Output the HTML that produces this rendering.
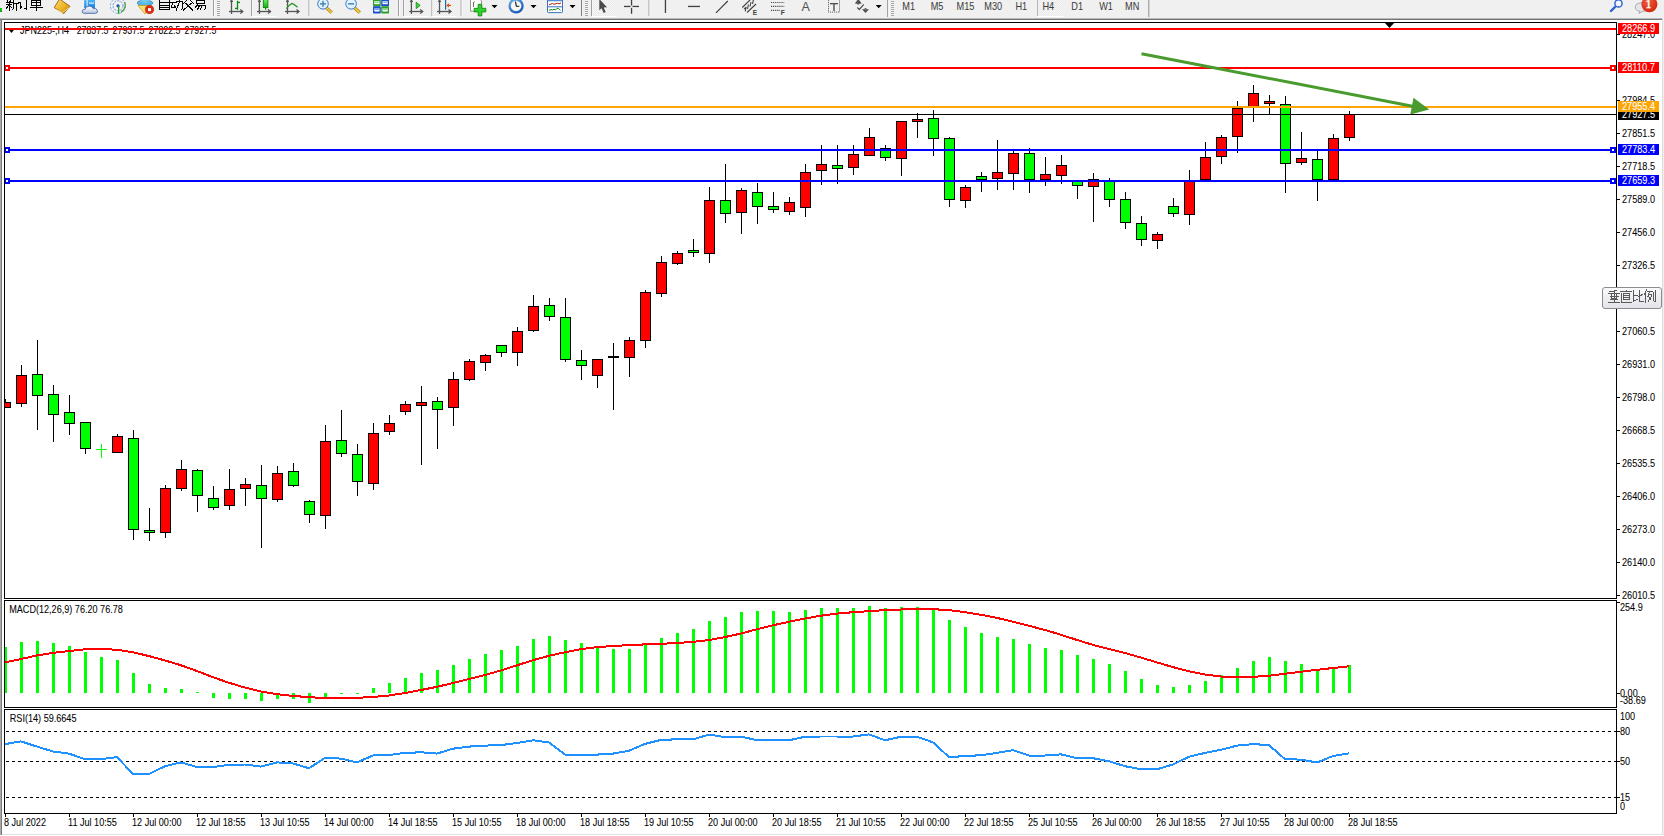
<!DOCTYPE html>
<html><head><meta charset="utf-8"><title>MT4 JPN225 H4</title>
<style>
html,body{margin:0;padding:0;background:#fff;width:1664px;height:836px;overflow:hidden;}
svg{display:block;font-family:"Liberation Sans",sans-serif;}
</style></head>
<body>
<svg width="1664" height="836" viewBox="0 0 1664 836">
<rect x="0" y="0" width="1664" height="836" fill="#fff"/>
<rect x="0" y="0" width="1664" height="18" fill="#f0f0f0"/>
<rect x="0" y="18" width="1662" height="1" fill="#b9b9b9"/>
<rect x="0" y="19" width="1662" height="1" fill="#727272"/>
<rect x="0" y="20" width="1" height="815" fill="#a9a9a9"/>
<rect x="1" y="20" width="1" height="815" fill="#7a7a7a"/>
<rect x="2" y="834" width="1661" height="1" fill="#e3e3e3"/>
<rect x="1662" y="18" width="1" height="817" fill="#dedede"/>
<rect x="1663" y="18" width="1" height="818" fill="#f0f0f0"/>
<defs><clipPath id="cm"><rect x="5" y="23" width="1611" height="575"/></clipPath><clipPath id="cmacd"><rect x="5" y="601" width="1611" height="106"/></clipPath><clipPath id="crsi"><rect x="5" y="710" width="1611" height="103"/></clipPath></defs>
<g clip-path="url(#cm)" shape-rendering="crispEdges">
<rect x="5" y="399" width="1" height="9" fill="#000"/>
<rect x="0" y="402" width="11" height="6" fill="#000"/>
<rect x="1" y="403" width="9" height="4" fill="#ff0000"/>
<rect x="21" y="365" width="1" height="42" fill="#000"/>
<rect x="16" y="375" width="11" height="29" fill="#000"/>
<rect x="17" y="376" width="9" height="27" fill="#ff0000"/>
<rect x="37" y="340" width="1" height="90" fill="#000"/>
<rect x="32" y="374" width="11" height="22" fill="#000"/>
<rect x="33" y="375" width="9" height="20" fill="#00ff00"/>
<rect x="53" y="385" width="1" height="57" fill="#000"/>
<rect x="48" y="394" width="11" height="21" fill="#000"/>
<rect x="49" y="395" width="9" height="19" fill="#00ff00"/>
<rect x="69" y="395" width="1" height="40" fill="#000"/>
<rect x="64" y="412" width="11" height="12" fill="#000"/>
<rect x="65" y="413" width="9" height="10" fill="#00ff00"/>
<rect x="85" y="422" width="1" height="32" fill="#000"/>
<rect x="80" y="422" width="11" height="27" fill="#000"/>
<rect x="81" y="423" width="9" height="25" fill="#00ff00"/>
<rect x="101" y="444" width="1" height="14" fill="#00ff00"/>
<rect x="96" y="449" width="11" height="1" fill="#00ff00"/>
<rect x="117" y="434" width="1" height="19" fill="#000"/>
<rect x="112" y="436" width="11" height="17" fill="#000"/>
<rect x="113" y="437" width="9" height="15" fill="#ff0000"/>
<rect x="133" y="430" width="1" height="110" fill="#000"/>
<rect x="128" y="438" width="11" height="92" fill="#000"/>
<rect x="129" y="439" width="9" height="90" fill="#00ff00"/>
<rect x="149" y="508" width="1" height="33" fill="#000"/>
<rect x="144" y="530" width="11" height="3" fill="#000"/>
<rect x="145" y="531" width="9" height="1" fill="#00ff00"/>
<rect x="165" y="485" width="1" height="53" fill="#000"/>
<rect x="160" y="488" width="11" height="45" fill="#000"/>
<rect x="161" y="489" width="9" height="43" fill="#ff0000"/>
<rect x="181" y="460" width="1" height="31" fill="#000"/>
<rect x="176" y="469" width="11" height="20" fill="#000"/>
<rect x="177" y="470" width="9" height="18" fill="#ff0000"/>
<rect x="197" y="469" width="1" height="43" fill="#000"/>
<rect x="192" y="470" width="11" height="26" fill="#000"/>
<rect x="193" y="471" width="9" height="24" fill="#00ff00"/>
<rect x="213" y="486" width="1" height="24" fill="#000"/>
<rect x="208" y="498" width="11" height="10" fill="#000"/>
<rect x="209" y="499" width="9" height="8" fill="#00ff00"/>
<rect x="229" y="469" width="1" height="41" fill="#000"/>
<rect x="224" y="489" width="11" height="17" fill="#000"/>
<rect x="225" y="490" width="9" height="15" fill="#ff0000"/>
<rect x="245" y="478" width="1" height="28" fill="#000"/>
<rect x="240" y="484" width="11" height="5" fill="#000"/>
<rect x="241" y="485" width="9" height="3" fill="#ff0000"/>
<rect x="261" y="465" width="1" height="83" fill="#000"/>
<rect x="256" y="485" width="11" height="14" fill="#000"/>
<rect x="257" y="486" width="9" height="12" fill="#00ff00"/>
<rect x="277" y="466" width="1" height="36" fill="#000"/>
<rect x="272" y="473" width="11" height="27" fill="#000"/>
<rect x="273" y="474" width="9" height="25" fill="#ff0000"/>
<rect x="293" y="463" width="1" height="24" fill="#000"/>
<rect x="288" y="471" width="11" height="15" fill="#000"/>
<rect x="289" y="472" width="9" height="13" fill="#00ff00"/>
<rect x="309" y="500" width="1" height="23" fill="#000"/>
<rect x="304" y="501" width="11" height="14" fill="#000"/>
<rect x="305" y="502" width="9" height="12" fill="#00ff00"/>
<rect x="325" y="425" width="1" height="104" fill="#000"/>
<rect x="320" y="441" width="11" height="75" fill="#000"/>
<rect x="321" y="442" width="9" height="73" fill="#ff0000"/>
<rect x="341" y="410" width="1" height="47" fill="#000"/>
<rect x="336" y="440" width="11" height="14" fill="#000"/>
<rect x="337" y="441" width="9" height="12" fill="#00ff00"/>
<rect x="357" y="444" width="1" height="52" fill="#000"/>
<rect x="352" y="454" width="11" height="28" fill="#000"/>
<rect x="353" y="455" width="9" height="26" fill="#00ff00"/>
<rect x="373" y="423" width="1" height="67" fill="#000"/>
<rect x="368" y="433" width="11" height="51" fill="#000"/>
<rect x="369" y="434" width="9" height="49" fill="#ff0000"/>
<rect x="389" y="415" width="1" height="20" fill="#000"/>
<rect x="384" y="423" width="11" height="9" fill="#000"/>
<rect x="385" y="424" width="9" height="7" fill="#ff0000"/>
<rect x="405" y="401" width="1" height="14" fill="#000"/>
<rect x="400" y="404" width="11" height="8" fill="#000"/>
<rect x="401" y="405" width="9" height="6" fill="#ff0000"/>
<rect x="421" y="386" width="1" height="79" fill="#000"/>
<rect x="416" y="402" width="11" height="4" fill="#000"/>
<rect x="417" y="403" width="9" height="2" fill="#ff0000"/>
<rect x="437" y="397" width="1" height="52" fill="#000"/>
<rect x="432" y="401" width="11" height="9" fill="#000"/>
<rect x="433" y="402" width="9" height="7" fill="#00ff00"/>
<rect x="453" y="372" width="1" height="54" fill="#000"/>
<rect x="448" y="379" width="11" height="29" fill="#000"/>
<rect x="449" y="380" width="9" height="27" fill="#ff0000"/>
<rect x="469" y="359" width="1" height="22" fill="#000"/>
<rect x="464" y="361" width="11" height="19" fill="#000"/>
<rect x="465" y="362" width="9" height="17" fill="#ff0000"/>
<rect x="485" y="354" width="1" height="17" fill="#000"/>
<rect x="480" y="355" width="11" height="8" fill="#000"/>
<rect x="481" y="356" width="9" height="6" fill="#ff0000"/>
<rect x="501" y="345" width="1" height="12" fill="#000"/>
<rect x="496" y="345" width="11" height="8" fill="#000"/>
<rect x="497" y="346" width="9" height="6" fill="#00ff00"/>
<rect x="517" y="327" width="1" height="39" fill="#000"/>
<rect x="512" y="331" width="11" height="22" fill="#000"/>
<rect x="513" y="332" width="9" height="20" fill="#ff0000"/>
<rect x="533" y="295" width="1" height="37" fill="#000"/>
<rect x="528" y="306" width="11" height="25" fill="#000"/>
<rect x="529" y="307" width="9" height="23" fill="#ff0000"/>
<rect x="549" y="298" width="1" height="23" fill="#000"/>
<rect x="544" y="305" width="11" height="12" fill="#000"/>
<rect x="545" y="306" width="9" height="10" fill="#00ff00"/>
<rect x="565" y="298" width="1" height="64" fill="#000"/>
<rect x="560" y="317" width="11" height="43" fill="#000"/>
<rect x="561" y="318" width="9" height="41" fill="#00ff00"/>
<rect x="581" y="350" width="1" height="30" fill="#000"/>
<rect x="576" y="360" width="11" height="6" fill="#000"/>
<rect x="577" y="361" width="9" height="4" fill="#00ff00"/>
<rect x="597" y="359" width="1" height="29" fill="#000"/>
<rect x="592" y="359" width="11" height="17" fill="#000"/>
<rect x="593" y="360" width="9" height="15" fill="#ff0000"/>
<rect x="613" y="343" width="1" height="67" fill="#000"/>
<rect x="608" y="356" width="11" height="2" fill="#000"/>
<rect x="629" y="337" width="1" height="40" fill="#000"/>
<rect x="624" y="340" width="11" height="18" fill="#000"/>
<rect x="625" y="341" width="9" height="16" fill="#ff0000"/>
<rect x="645" y="290" width="1" height="58" fill="#000"/>
<rect x="640" y="292" width="11" height="49" fill="#000"/>
<rect x="641" y="293" width="9" height="47" fill="#ff0000"/>
<rect x="661" y="256" width="1" height="41" fill="#000"/>
<rect x="656" y="262" width="11" height="32" fill="#000"/>
<rect x="657" y="263" width="9" height="30" fill="#ff0000"/>
<rect x="677" y="251" width="1" height="14" fill="#000"/>
<rect x="672" y="253" width="11" height="11" fill="#000"/>
<rect x="673" y="254" width="9" height="9" fill="#ff0000"/>
<rect x="693" y="239" width="1" height="18" fill="#000"/>
<rect x="688" y="250" width="11" height="3" fill="#000"/>
<rect x="689" y="251" width="9" height="1" fill="#00ff00"/>
<rect x="709" y="187" width="1" height="76" fill="#000"/>
<rect x="704" y="200" width="11" height="54" fill="#000"/>
<rect x="705" y="201" width="9" height="52" fill="#ff0000"/>
<rect x="725" y="164" width="1" height="59" fill="#000"/>
<rect x="720" y="200" width="11" height="14" fill="#000"/>
<rect x="721" y="201" width="9" height="12" fill="#00ff00"/>
<rect x="741" y="188" width="1" height="46" fill="#000"/>
<rect x="736" y="190" width="11" height="23" fill="#000"/>
<rect x="737" y="191" width="9" height="21" fill="#ff0000"/>
<rect x="757" y="183" width="1" height="41" fill="#000"/>
<rect x="752" y="192" width="11" height="15" fill="#000"/>
<rect x="753" y="193" width="9" height="13" fill="#00ff00"/>
<rect x="773" y="192" width="1" height="21" fill="#000"/>
<rect x="768" y="206" width="11" height="4" fill="#000"/>
<rect x="769" y="207" width="9" height="2" fill="#00ff00"/>
<rect x="789" y="197" width="1" height="18" fill="#000"/>
<rect x="784" y="202" width="11" height="10" fill="#000"/>
<rect x="785" y="203" width="9" height="8" fill="#ff0000"/>
<rect x="805" y="164" width="1" height="53" fill="#000"/>
<rect x="800" y="172" width="11" height="36" fill="#000"/>
<rect x="801" y="173" width="9" height="34" fill="#ff0000"/>
<rect x="821" y="145" width="1" height="40" fill="#000"/>
<rect x="816" y="164" width="11" height="7" fill="#000"/>
<rect x="817" y="165" width="9" height="5" fill="#ff0000"/>
<rect x="837" y="145" width="1" height="39" fill="#000"/>
<rect x="832" y="165" width="11" height="4" fill="#000"/>
<rect x="833" y="166" width="9" height="2" fill="#00ff00"/>
<rect x="853" y="145" width="1" height="30" fill="#000"/>
<rect x="848" y="154" width="11" height="14" fill="#000"/>
<rect x="849" y="155" width="9" height="12" fill="#ff0000"/>
<rect x="869" y="128" width="1" height="28" fill="#000"/>
<rect x="864" y="137" width="11" height="19" fill="#000"/>
<rect x="865" y="138" width="9" height="17" fill="#ff0000"/>
<rect x="885" y="145" width="1" height="16" fill="#000"/>
<rect x="880" y="148" width="11" height="10" fill="#000"/>
<rect x="881" y="149" width="9" height="8" fill="#00ff00"/>
<rect x="901" y="121" width="1" height="55" fill="#000"/>
<rect x="896" y="121" width="11" height="38" fill="#000"/>
<rect x="897" y="122" width="9" height="36" fill="#ff0000"/>
<rect x="917" y="113" width="1" height="25" fill="#000"/>
<rect x="912" y="119" width="11" height="3" fill="#000"/>
<rect x="913" y="120" width="9" height="1" fill="#ff0000"/>
<rect x="933" y="110" width="1" height="46" fill="#000"/>
<rect x="928" y="118" width="11" height="21" fill="#000"/>
<rect x="929" y="119" width="9" height="19" fill="#00ff00"/>
<rect x="949" y="137" width="1" height="70" fill="#000"/>
<rect x="944" y="138" width="11" height="62" fill="#000"/>
<rect x="945" y="139" width="9" height="60" fill="#00ff00"/>
<rect x="965" y="185" width="1" height="23" fill="#000"/>
<rect x="960" y="187" width="11" height="14" fill="#000"/>
<rect x="961" y="188" width="9" height="12" fill="#ff0000"/>
<rect x="981" y="172" width="1" height="20" fill="#000"/>
<rect x="976" y="176" width="11" height="4" fill="#000"/>
<rect x="977" y="177" width="9" height="2" fill="#00ff00"/>
<rect x="997" y="140" width="1" height="50" fill="#000"/>
<rect x="992" y="172" width="11" height="7" fill="#000"/>
<rect x="993" y="173" width="9" height="5" fill="#ff0000"/>
<rect x="1013" y="150" width="1" height="40" fill="#000"/>
<rect x="1008" y="153" width="11" height="21" fill="#000"/>
<rect x="1009" y="154" width="9" height="19" fill="#ff0000"/>
<rect x="1029" y="148" width="1" height="45" fill="#000"/>
<rect x="1024" y="153" width="11" height="27" fill="#000"/>
<rect x="1025" y="154" width="9" height="25" fill="#00ff00"/>
<rect x="1045" y="157" width="1" height="29" fill="#000"/>
<rect x="1040" y="174" width="11" height="6" fill="#000"/>
<rect x="1041" y="175" width="9" height="4" fill="#ff0000"/>
<rect x="1061" y="155" width="1" height="29" fill="#000"/>
<rect x="1056" y="165" width="11" height="11" fill="#000"/>
<rect x="1057" y="166" width="9" height="9" fill="#ff0000"/>
<rect x="1077" y="180" width="1" height="19" fill="#000"/>
<rect x="1072" y="181" width="11" height="5" fill="#000"/>
<rect x="1073" y="182" width="9" height="3" fill="#00ff00"/>
<rect x="1093" y="173" width="1" height="49" fill="#000"/>
<rect x="1088" y="179" width="11" height="8" fill="#000"/>
<rect x="1089" y="180" width="9" height="6" fill="#ff0000"/>
<rect x="1109" y="178" width="1" height="29" fill="#000"/>
<rect x="1104" y="181" width="11" height="19" fill="#000"/>
<rect x="1105" y="182" width="9" height="17" fill="#00ff00"/>
<rect x="1125" y="192" width="1" height="37" fill="#000"/>
<rect x="1120" y="199" width="11" height="24" fill="#000"/>
<rect x="1121" y="200" width="9" height="22" fill="#00ff00"/>
<rect x="1141" y="216" width="1" height="30" fill="#000"/>
<rect x="1136" y="223" width="11" height="17" fill="#000"/>
<rect x="1137" y="224" width="9" height="15" fill="#00ff00"/>
<rect x="1157" y="232" width="1" height="17" fill="#000"/>
<rect x="1152" y="234" width="11" height="7" fill="#000"/>
<rect x="1153" y="235" width="9" height="5" fill="#ff0000"/>
<rect x="1173" y="198" width="1" height="19" fill="#000"/>
<rect x="1168" y="206" width="11" height="8" fill="#000"/>
<rect x="1169" y="207" width="9" height="6" fill="#00ff00"/>
<rect x="1189" y="170" width="1" height="55" fill="#000"/>
<rect x="1184" y="181" width="11" height="34" fill="#000"/>
<rect x="1185" y="182" width="9" height="32" fill="#ff0000"/>
<rect x="1205" y="142" width="1" height="38" fill="#000"/>
<rect x="1200" y="157" width="11" height="23" fill="#000"/>
<rect x="1201" y="158" width="9" height="21" fill="#ff0000"/>
<rect x="1221" y="135" width="1" height="29" fill="#000"/>
<rect x="1216" y="137" width="11" height="20" fill="#000"/>
<rect x="1217" y="138" width="9" height="18" fill="#ff0000"/>
<rect x="1237" y="101" width="1" height="52" fill="#000"/>
<rect x="1232" y="108" width="11" height="29" fill="#000"/>
<rect x="1233" y="109" width="9" height="27" fill="#ff0000"/>
<rect x="1253" y="85" width="1" height="37" fill="#000"/>
<rect x="1248" y="93" width="11" height="14" fill="#000"/>
<rect x="1249" y="94" width="9" height="12" fill="#ff0000"/>
<rect x="1269" y="95" width="1" height="19" fill="#000"/>
<rect x="1264" y="101" width="11" height="3" fill="#000"/>
<rect x="1265" y="102" width="9" height="1" fill="#ff0000"/>
<rect x="1285" y="96" width="1" height="97" fill="#000"/>
<rect x="1280" y="104" width="11" height="60" fill="#000"/>
<rect x="1281" y="105" width="9" height="58" fill="#00ff00"/>
<rect x="1301" y="132" width="1" height="33" fill="#000"/>
<rect x="1296" y="158" width="11" height="5" fill="#000"/>
<rect x="1297" y="159" width="9" height="3" fill="#ff0000"/>
<rect x="1317" y="151" width="1" height="50" fill="#000"/>
<rect x="1312" y="159" width="11" height="21" fill="#000"/>
<rect x="1313" y="160" width="9" height="19" fill="#00ff00"/>
<rect x="1333" y="134" width="1" height="46" fill="#000"/>
<rect x="1328" y="138" width="11" height="42" fill="#000"/>
<rect x="1329" y="139" width="9" height="40" fill="#ff0000"/>
<rect x="1349" y="111" width="1" height="30" fill="#000"/>
<rect x="1344" y="114" width="11" height="24" fill="#000"/>
<rect x="1345" y="115" width="9" height="22" fill="#ff0000"/>
</g>
<g shape-rendering="crispEdges">
<rect x="5" y="28" width="1611" height="2" fill="#ff0000"/>
<rect x="5" y="67" width="1611" height="2" fill="#ff0000"/>
<rect x="5" y="106" width="1611" height="2" fill="#ffa500"/>
<rect x="5" y="114" width="1611" height="1" fill="#000"/>
<rect x="5" y="149" width="1611" height="2" fill="#0000ff"/>
<rect x="5" y="180" width="1611" height="2" fill="#0000ff"/>
<rect x="4" y="65" width="6" height="6" fill="#ff0000"/>
<rect x="6" y="67" width="2" height="2" fill="#fff"/>
<rect x="1610" y="65" width="6" height="6" fill="#ff0000"/>
<rect x="1612" y="67" width="2" height="2" fill="#fff"/>
<rect x="4" y="147" width="6" height="6" fill="#0000ff"/>
<rect x="6" y="149" width="2" height="2" fill="#fff"/>
<rect x="1610" y="147" width="6" height="6" fill="#0000ff"/>
<rect x="1612" y="149" width="2" height="2" fill="#fff"/>
<rect x="4" y="178" width="6" height="6" fill="#0000ff"/>
<rect x="6" y="180" width="2" height="2" fill="#fff"/>
<rect x="1610" y="178" width="6" height="6" fill="#0000ff"/>
<rect x="1612" y="180" width="2" height="2" fill="#fff"/>
</g>
<g>
<line x1="1141.5" y1="53.7" x2="1412.5" y2="106.2" stroke="#4a9b2e" stroke-width="3" stroke-linecap="butt"/>
<polygon points="1413.5,97.7 1410.3,114.5 1429.2,109.6" fill="#4a9b2e"/>
</g>
<polygon points="1384,22 1395,22 1389.5,28" fill="#000"/>
<polygon points="7.5,28 15.5,28 11.5,33" fill="#000"/>
<g shape-rendering="crispEdges" fill="none" stroke="#000" stroke-width="1">
<rect x="4.5" y="22.5" width="1612" height="576"/>
<rect x="4.5" y="600.5" width="1612" height="107"/>
<rect x="4.5" y="709.5" width="1612" height="104"/>
</g>
<g font-family='"Liberation Sans", sans-serif'>
<text x="20" y="34" font-size="10.0" fill="#000" stroke="#000" stroke-width="0.06" textLength="49" lengthAdjust="spacingAndGlyphs">JPN225-,H4</text>
<text x="76.7" y="34" font-size="10.0" fill="#000" stroke="#000" stroke-width="0.06" textLength="31.8" lengthAdjust="spacingAndGlyphs">27837.5</text>
<text x="112.6" y="34" font-size="10.0" fill="#000" stroke="#000" stroke-width="0.06" textLength="31.8" lengthAdjust="spacingAndGlyphs">27937.5</text>
<text x="148.6" y="34" font-size="10.0" fill="#000" stroke="#000" stroke-width="0.06" textLength="31.8" lengthAdjust="spacingAndGlyphs">27822.5</text>
<text x="184.5" y="34" font-size="10.0" fill="#000" stroke="#000" stroke-width="0.06" textLength="31.8" lengthAdjust="spacingAndGlyphs">27927.5</text>
</g>
<rect x="5" y="28" width="1611" height="2" fill="#ff0000"/>
<g font-family='"Liberation Sans", sans-serif' font-size="9" fill="#000">
<rect x="1617" y="34" width="3" height="1" fill="#000"/>
<text x="1622" y="38" font-size="10.0" fill="#000" stroke="#000" stroke-width="0.06" textLength="33" lengthAdjust="spacingAndGlyphs">28247.0</text>
<rect x="1617" y="100" width="3" height="1" fill="#000"/>
<text x="1622" y="104" font-size="10.0" fill="#000" stroke="#000" stroke-width="0.06" textLength="33" lengthAdjust="spacingAndGlyphs">27984.5</text>
<rect x="1617" y="133" width="3" height="1" fill="#000"/>
<text x="1622" y="137" font-size="10.0" fill="#000" stroke="#000" stroke-width="0.06" textLength="33" lengthAdjust="spacingAndGlyphs">27851.5</text>
<rect x="1617" y="166" width="3" height="1" fill="#000"/>
<text x="1622" y="170" font-size="10.0" fill="#000" stroke="#000" stroke-width="0.06" textLength="33" lengthAdjust="spacingAndGlyphs">27718.5</text>
<rect x="1617" y="199" width="3" height="1" fill="#000"/>
<text x="1622" y="203" font-size="10.0" fill="#000" stroke="#000" stroke-width="0.06" textLength="33" lengthAdjust="spacingAndGlyphs">27589.0</text>
<rect x="1617" y="232" width="3" height="1" fill="#000"/>
<text x="1622" y="236" font-size="10.0" fill="#000" stroke="#000" stroke-width="0.06" textLength="33" lengthAdjust="spacingAndGlyphs">27456.0</text>
<rect x="1617" y="265" width="3" height="1" fill="#000"/>
<text x="1622" y="269" font-size="10.0" fill="#000" stroke="#000" stroke-width="0.06" textLength="33" lengthAdjust="spacingAndGlyphs">27326.5</text>
<rect x="1617" y="298" width="3" height="1" fill="#000"/>
<text x="1622" y="302" font-size="10.0" fill="#000" stroke="#000" stroke-width="0.06" textLength="33" lengthAdjust="spacingAndGlyphs">27193.0</text>
<rect x="1617" y="331" width="3" height="1" fill="#000"/>
<text x="1622" y="335" font-size="10.0" fill="#000" stroke="#000" stroke-width="0.06" textLength="33" lengthAdjust="spacingAndGlyphs">27060.5</text>
<rect x="1617" y="364" width="3" height="1" fill="#000"/>
<text x="1622" y="368" font-size="10.0" fill="#000" stroke="#000" stroke-width="0.06" textLength="33" lengthAdjust="spacingAndGlyphs">26931.0</text>
<rect x="1617" y="397" width="3" height="1" fill="#000"/>
<text x="1622" y="401" font-size="10.0" fill="#000" stroke="#000" stroke-width="0.06" textLength="33" lengthAdjust="spacingAndGlyphs">26798.0</text>
<rect x="1617" y="430" width="3" height="1" fill="#000"/>
<text x="1622" y="434" font-size="10.0" fill="#000" stroke="#000" stroke-width="0.06" textLength="33" lengthAdjust="spacingAndGlyphs">26668.5</text>
<rect x="1617" y="463" width="3" height="1" fill="#000"/>
<text x="1622" y="467" font-size="10.0" fill="#000" stroke="#000" stroke-width="0.06" textLength="33" lengthAdjust="spacingAndGlyphs">26535.5</text>
<rect x="1617" y="496" width="3" height="1" fill="#000"/>
<text x="1622" y="500" font-size="10.0" fill="#000" stroke="#000" stroke-width="0.06" textLength="33" lengthAdjust="spacingAndGlyphs">26406.0</text>
<rect x="1617" y="529" width="3" height="1" fill="#000"/>
<text x="1622" y="533" font-size="10.0" fill="#000" stroke="#000" stroke-width="0.06" textLength="33" lengthAdjust="spacingAndGlyphs">26273.0</text>
<rect x="1617" y="562" width="3" height="1" fill="#000"/>
<text x="1622" y="566" font-size="10.0" fill="#000" stroke="#000" stroke-width="0.06" textLength="33" lengthAdjust="spacingAndGlyphs">26140.0</text>
<rect x="1617" y="595" width="3" height="1" fill="#000"/>
<text x="1622" y="599" font-size="10.0" fill="#000" stroke="#000" stroke-width="0.06" textLength="33" lengthAdjust="spacingAndGlyphs">26010.5</text>
</g>
<rect x="1618" y="23" width="41" height="11" fill="#ff0000"/>
<text x="1622" y="32" font-size="10.0" fill="#fff" stroke="#fff" stroke-width="0.06" textLength="33" lengthAdjust="spacingAndGlyphs">28266.9</text>
<rect x="1618" y="62" width="41" height="11" fill="#ff0000"/>
<text x="1622" y="71" font-size="10.0" fill="#fff" stroke="#fff" stroke-width="0.06" textLength="33" lengthAdjust="spacingAndGlyphs">28110.7</text>
<rect x="1618" y="109" width="41" height="11" fill="#000000"/>
<text x="1622" y="118" font-size="10.0" fill="#fff" stroke="#fff" stroke-width="0.06" textLength="33" lengthAdjust="spacingAndGlyphs">27927.5</text>
<rect x="1618" y="101" width="41" height="11" fill="#ffa500"/>
<text x="1622" y="110" font-size="10.0" fill="#fff" stroke="#fff" stroke-width="0.06" textLength="33" lengthAdjust="spacingAndGlyphs">27955.4</text>
<rect x="1618" y="144" width="41" height="11" fill="#0000ff"/>
<text x="1622" y="153" font-size="10.0" fill="#fff" stroke="#fff" stroke-width="0.06" textLength="33" lengthAdjust="spacingAndGlyphs">27783.4</text>
<rect x="1618" y="175" width="41" height="11" fill="#0000ff"/>
<text x="1622" y="184" font-size="10.0" fill="#fff" stroke="#fff" stroke-width="0.06" textLength="33" lengthAdjust="spacingAndGlyphs">27659.3</text>
<g clip-path="url(#cmacd)" shape-rendering="crispEdges">
<rect x="4" y="647" width="3" height="46" fill="#00ff00"/>
<rect x="20" y="642" width="3" height="51" fill="#00ff00"/>
<rect x="36" y="641" width="3" height="52" fill="#00ff00"/>
<rect x="52" y="643" width="3" height="50" fill="#00ff00"/>
<rect x="68" y="646" width="3" height="47" fill="#00ff00"/>
<rect x="84" y="652" width="3" height="41" fill="#00ff00"/>
<rect x="100" y="657" width="3" height="36" fill="#00ff00"/>
<rect x="116" y="660" width="3" height="33" fill="#00ff00"/>
<rect x="132" y="673" width="3" height="20" fill="#00ff00"/>
<rect x="148" y="684" width="3" height="9" fill="#00ff00"/>
<rect x="164" y="688" width="3" height="5" fill="#00ff00"/>
<rect x="180" y="689" width="3" height="4" fill="#00ff00"/>
<rect x="196" y="692" width="3" height="1" fill="#00ff00"/>
<rect x="212" y="693" width="3" height="5" fill="#00ff00"/>
<rect x="228" y="693" width="3" height="6" fill="#00ff00"/>
<rect x="244" y="693" width="3" height="6" fill="#00ff00"/>
<rect x="260" y="693" width="3" height="8" fill="#00ff00"/>
<rect x="276" y="693" width="3" height="6" fill="#00ff00"/>
<rect x="292" y="693" width="3" height="6" fill="#00ff00"/>
<rect x="308" y="693" width="3" height="10" fill="#00ff00"/>
<rect x="324" y="693" width="3" height="4" fill="#00ff00"/>
<rect x="340" y="693" width="3" height="1" fill="#00ff00"/>
<rect x="356" y="693" width="3" height="1" fill="#00ff00"/>
<rect x="372" y="688" width="3" height="5" fill="#00ff00"/>
<rect x="388" y="683" width="3" height="10" fill="#00ff00"/>
<rect x="404" y="678" width="3" height="15" fill="#00ff00"/>
<rect x="420" y="673" width="3" height="20" fill="#00ff00"/>
<rect x="436" y="670" width="3" height="23" fill="#00ff00"/>
<rect x="452" y="665" width="3" height="28" fill="#00ff00"/>
<rect x="468" y="659" width="3" height="34" fill="#00ff00"/>
<rect x="484" y="654" width="3" height="39" fill="#00ff00"/>
<rect x="500" y="650" width="3" height="43" fill="#00ff00"/>
<rect x="516" y="646" width="3" height="47" fill="#00ff00"/>
<rect x="532" y="639" width="3" height="54" fill="#00ff00"/>
<rect x="548" y="636" width="3" height="57" fill="#00ff00"/>
<rect x="564" y="640" width="3" height="53" fill="#00ff00"/>
<rect x="580" y="643" width="3" height="50" fill="#00ff00"/>
<rect x="596" y="647" width="3" height="46" fill="#00ff00"/>
<rect x="612" y="649" width="3" height="44" fill="#00ff00"/>
<rect x="628" y="649" width="3" height="44" fill="#00ff00"/>
<rect x="644" y="644" width="3" height="49" fill="#00ff00"/>
<rect x="660" y="638" width="3" height="55" fill="#00ff00"/>
<rect x="676" y="633" width="3" height="60" fill="#00ff00"/>
<rect x="692" y="629" width="3" height="64" fill="#00ff00"/>
<rect x="708" y="621" width="3" height="72" fill="#00ff00"/>
<rect x="724" y="617" width="3" height="76" fill="#00ff00"/>
<rect x="740" y="612" width="3" height="81" fill="#00ff00"/>
<rect x="756" y="611" width="3" height="82" fill="#00ff00"/>
<rect x="772" y="611" width="3" height="82" fill="#00ff00"/>
<rect x="788" y="612" width="3" height="81" fill="#00ff00"/>
<rect x="804" y="610" width="3" height="83" fill="#00ff00"/>
<rect x="820" y="608" width="3" height="85" fill="#00ff00"/>
<rect x="836" y="608" width="3" height="85" fill="#00ff00"/>
<rect x="852" y="608" width="3" height="85" fill="#00ff00"/>
<rect x="868" y="606" width="3" height="87" fill="#00ff00"/>
<rect x="884" y="608" width="3" height="85" fill="#00ff00"/>
<rect x="900" y="607" width="3" height="86" fill="#00ff00"/>
<rect x="916" y="607" width="3" height="86" fill="#00ff00"/>
<rect x="932" y="610" width="3" height="83" fill="#00ff00"/>
<rect x="948" y="620" width="3" height="73" fill="#00ff00"/>
<rect x="964" y="627" width="3" height="66" fill="#00ff00"/>
<rect x="980" y="633" width="3" height="60" fill="#00ff00"/>
<rect x="996" y="637" width="3" height="56" fill="#00ff00"/>
<rect x="1012" y="639" width="3" height="54" fill="#00ff00"/>
<rect x="1028" y="644" width="3" height="49" fill="#00ff00"/>
<rect x="1044" y="648" width="3" height="45" fill="#00ff00"/>
<rect x="1060" y="650" width="3" height="43" fill="#00ff00"/>
<rect x="1076" y="655" width="3" height="38" fill="#00ff00"/>
<rect x="1092" y="659" width="3" height="34" fill="#00ff00"/>
<rect x="1108" y="664" width="3" height="29" fill="#00ff00"/>
<rect x="1124" y="671" width="3" height="22" fill="#00ff00"/>
<rect x="1140" y="679" width="3" height="14" fill="#00ff00"/>
<rect x="1156" y="685" width="3" height="8" fill="#00ff00"/>
<rect x="1172" y="687" width="3" height="6" fill="#00ff00"/>
<rect x="1188" y="685" width="3" height="8" fill="#00ff00"/>
<rect x="1204" y="681" width="3" height="12" fill="#00ff00"/>
<rect x="1220" y="675" width="3" height="18" fill="#00ff00"/>
<rect x="1236" y="668" width="3" height="25" fill="#00ff00"/>
<rect x="1252" y="661" width="3" height="32" fill="#00ff00"/>
<rect x="1268" y="657" width="3" height="36" fill="#00ff00"/>
<rect x="1284" y="661" width="3" height="32" fill="#00ff00"/>
<rect x="1300" y="664" width="3" height="29" fill="#00ff00"/>
<rect x="1316" y="669" width="3" height="24" fill="#00ff00"/>
<rect x="1332" y="668" width="3" height="25" fill="#00ff00"/>
<rect x="1348" y="665" width="3" height="28" fill="#00ff00"/>
</g>
<polyline clip-path="url(#cmacd)" points="5,662.4 21,659.0 37,655.4 53,652.9 69,651.0 85,649.3 101,648.8 117,649.8 133,652.2 149,656.1 165,660.5 181,665.3 197,671.0 213,677.2 229,682.8 245,687.6 261,691.6 277,694.2 293,695.9 309,697.2 325,698.0 341,698.1 357,697.8 373,697.0 389,695.5 405,693.0 421,690.0 437,686.8 453,683.0 469,679.0 485,675.0 501,670.4 517,665.3 533,660.2 549,655.8 565,652.2 581,649.2 597,647.1 613,646.0 629,645.1 645,644.4 661,643.8 677,643.0 693,641.9 709,640.0 725,637.1 741,633.5 757,629.2 773,625.3 789,621.8 805,618.5 821,615.7 837,613.6 853,612.2 869,611.2 885,610.1 901,609.5 917,609.2 933,609.2 949,610.1 965,612.1 981,614.8 997,617.9 1013,621.7 1029,625.8 1045,630.0 1061,634.8 1077,640.0 1093,644.9 1109,649.0 1125,653.0 1141,657.6 1157,662.4 1173,667.1 1189,671.3 1205,674.5 1221,676.5 1237,677.3 1253,676.9 1269,675.7 1285,673.7 1301,671.7 1317,669.8 1333,668.0 1349,666.3" fill="none" stroke="#ff0000" stroke-width="2" stroke-linejoin="round" shape-rendering="crispEdges"/>
<g font-family='"Liberation Sans", sans-serif'>
<text transform="translate(9.2,613) scale(0.91,1)" font-size="10.0" fill="#000" stroke="#000" stroke-width="0.06">MACD(12,26,9) 76.20 76.78</text>
</g>
<g font-family='"Liberation Sans", sans-serif' font-size="9" fill="#000">
<rect x="1617" y="602" width="3" height="1" fill="#000"/>
<text transform="translate(1620,611) scale(0.91,1)" font-size="10.0" fill="#000" stroke="#000" stroke-width="0.06">254.9</text>
<rect x="1617" y="693" width="3" height="1" fill="#000"/>
<text transform="translate(1620,697) scale(0.91,1)" font-size="10.0" fill="#000" stroke="#000" stroke-width="0.06">0.00</text>
<text transform="translate(1620,704) scale(0.91,1)" font-size="10.0" fill="#000" stroke="#000" stroke-width="0.06">-38.69</text>
</g>
<g shape-rendering="crispEdges" stroke="#000" stroke-width="1" stroke-dasharray="3 3">
<line x1="6" y1="731.5" x2="1616" y2="731.5"/>
<line x1="6" y1="761.5" x2="1616" y2="761.5"/>
<line x1="6" y1="797.5" x2="1616" y2="797.5"/>
</g>
<polyline clip-path="url(#crsi)" points="5,744.1 21,741.4 37,746.6 53,751.5 69,753.6 85,759.2 101,759.2 117,757.1 133,774.0 149,774.0 165,766.2 181,762.4 197,767.0 213,767.0 229,764.9 245,764.5 261,766.6 277,762.4 293,763.4 309,768.3 325,757.8 341,758.6 357,762.4 373,755.5 389,755.0 405,752.9 421,752.3 437,753.6 453,748.7 469,746.6 485,745.6 501,745.1 517,743.0 533,740.3 549,742.4 565,754.6 581,754.6 597,754.6 613,753.6 629,750.8 645,743.9 661,739.9 677,739.3 693,739.3 709,734.6 725,737.2 741,736.5 757,740.3 773,740.3 789,740.3 805,736.7 821,736.5 837,736.5 853,736.5 869,734.4 885,740.3 901,736.7 917,736.7 933,742.4 949,757.1 965,756.1 981,755.2 997,752.9 1013,750.2 1029,755.5 1045,755.5 1061,754.4 1077,758.2 1093,758.2 1109,761.3 1125,766.2 1141,769.3 1157,769.3 1173,764.5 1189,756.7 1205,752.9 1221,749.8 1237,745.6 1253,744.1 1269,745.1 1285,759.2 1301,759.6 1317,762.5 1333,756.0 1349,753.3" fill="none" stroke="#1e90ff" stroke-width="2" stroke-linejoin="round" shape-rendering="crispEdges"/>
<g font-family='"Liberation Sans", sans-serif'>
<text transform="translate(9.8,722) scale(0.91,1)" font-size="10.0" fill="#000" stroke="#000" stroke-width="0.06">RSI(14) 59.6645</text>
</g>
<g font-family='"Liberation Sans", sans-serif' font-size="9" fill="#000">
<text transform="translate(1620,720) scale(0.91,1)" font-size="10.0" fill="#000" stroke="#000" stroke-width="0.06">100</text>
<text transform="translate(1620,735) scale(0.91,1)" font-size="10.0" fill="#000" stroke="#000" stroke-width="0.06">80</text>
<text transform="translate(1620,765) scale(0.91,1)" font-size="10.0" fill="#000" stroke="#000" stroke-width="0.06">50</text>
<text transform="translate(1620,801) scale(0.91,1)" font-size="10.0" fill="#000" stroke="#000" stroke-width="0.06">15</text>
<text transform="translate(1620,810) scale(0.91,1)" font-size="10.0" fill="#000" stroke="#000" stroke-width="0.06">0</text>
<rect x="1617" y="731" width="3" height="1" fill="#000"/>
<rect x="1617" y="761" width="3" height="1" fill="#000"/>
<rect x="1617" y="797" width="3" height="1" fill="#000"/>
</g>
<g font-family='"Liberation Sans", sans-serif' font-size="9" fill="#000">
<rect x="5" y="814" width="1" height="3" fill="#000"/>
<text transform="translate(4,826) scale(0.91,1)" font-size="10.0" fill="#000" stroke="#000" stroke-width="0.06">8 Jul 2022</text>
<rect x="69" y="814" width="1" height="3" fill="#000"/>
<text transform="translate(68,826) scale(0.91,1)" font-size="10.0" fill="#000" stroke="#000" stroke-width="0.06">11 Jul 10:55</text>
<rect x="133" y="814" width="1" height="3" fill="#000"/>
<text transform="translate(132,826) scale(0.91,1)" font-size="10.0" fill="#000" stroke="#000" stroke-width="0.06">12 Jul 00:00</text>
<rect x="197" y="814" width="1" height="3" fill="#000"/>
<text transform="translate(196,826) scale(0.91,1)" font-size="10.0" fill="#000" stroke="#000" stroke-width="0.06">12 Jul 18:55</text>
<rect x="261" y="814" width="1" height="3" fill="#000"/>
<text transform="translate(260,826) scale(0.91,1)" font-size="10.0" fill="#000" stroke="#000" stroke-width="0.06">13 Jul 10:55</text>
<rect x="325" y="814" width="1" height="3" fill="#000"/>
<text transform="translate(324,826) scale(0.91,1)" font-size="10.0" fill="#000" stroke="#000" stroke-width="0.06">14 Jul 00:00</text>
<rect x="389" y="814" width="1" height="3" fill="#000"/>
<text transform="translate(388,826) scale(0.91,1)" font-size="10.0" fill="#000" stroke="#000" stroke-width="0.06">14 Jul 18:55</text>
<rect x="453" y="814" width="1" height="3" fill="#000"/>
<text transform="translate(452,826) scale(0.91,1)" font-size="10.0" fill="#000" stroke="#000" stroke-width="0.06">15 Jul 10:55</text>
<rect x="517" y="814" width="1" height="3" fill="#000"/>
<text transform="translate(516,826) scale(0.91,1)" font-size="10.0" fill="#000" stroke="#000" stroke-width="0.06">18 Jul 00:00</text>
<rect x="581" y="814" width="1" height="3" fill="#000"/>
<text transform="translate(580,826) scale(0.91,1)" font-size="10.0" fill="#000" stroke="#000" stroke-width="0.06">18 Jul 18:55</text>
<rect x="645" y="814" width="1" height="3" fill="#000"/>
<text transform="translate(644,826) scale(0.91,1)" font-size="10.0" fill="#000" stroke="#000" stroke-width="0.06">19 Jul 10:55</text>
<rect x="709" y="814" width="1" height="3" fill="#000"/>
<text transform="translate(708,826) scale(0.91,1)" font-size="10.0" fill="#000" stroke="#000" stroke-width="0.06">20 Jul 00:00</text>
<rect x="773" y="814" width="1" height="3" fill="#000"/>
<text transform="translate(772,826) scale(0.91,1)" font-size="10.0" fill="#000" stroke="#000" stroke-width="0.06">20 Jul 18:55</text>
<rect x="837" y="814" width="1" height="3" fill="#000"/>
<text transform="translate(836,826) scale(0.91,1)" font-size="10.0" fill="#000" stroke="#000" stroke-width="0.06">21 Jul 10:55</text>
<rect x="901" y="814" width="1" height="3" fill="#000"/>
<text transform="translate(900,826) scale(0.91,1)" font-size="10.0" fill="#000" stroke="#000" stroke-width="0.06">22 Jul 00:00</text>
<rect x="965" y="814" width="1" height="3" fill="#000"/>
<text transform="translate(964,826) scale(0.91,1)" font-size="10.0" fill="#000" stroke="#000" stroke-width="0.06">22 Jul 18:55</text>
<rect x="1029" y="814" width="1" height="3" fill="#000"/>
<text transform="translate(1028,826) scale(0.91,1)" font-size="10.0" fill="#000" stroke="#000" stroke-width="0.06">25 Jul 10:55</text>
<rect x="1093" y="814" width="1" height="3" fill="#000"/>
<text transform="translate(1092,826) scale(0.91,1)" font-size="10.0" fill="#000" stroke="#000" stroke-width="0.06">26 Jul 00:00</text>
<rect x="1157" y="814" width="1" height="3" fill="#000"/>
<text transform="translate(1156,826) scale(0.91,1)" font-size="10.0" fill="#000" stroke="#000" stroke-width="0.06">26 Jul 18:55</text>
<rect x="1221" y="814" width="1" height="3" fill="#000"/>
<text transform="translate(1220,826) scale(0.91,1)" font-size="10.0" fill="#000" stroke="#000" stroke-width="0.06">27 Jul 10:55</text>
<rect x="1285" y="814" width="1" height="3" fill="#000"/>
<text transform="translate(1284,826) scale(0.91,1)" font-size="10.0" fill="#000" stroke="#000" stroke-width="0.06">28 Jul 00:00</text>
<rect x="1349" y="814" width="1" height="3" fill="#000"/>
<text transform="translate(1348,826) scale(0.91,1)" font-size="10.0" fill="#000" stroke="#000" stroke-width="0.06">28 Jul 18:55</text>
</g>
<defs><linearGradient id="btn" x1="0" y1="0" x2="0" y2="1"><stop offset="0" stop-color="#fbfbfd"/><stop offset="1" stop-color="#e2e2ea"/></linearGradient></defs>
<rect x="1602.5" y="287.5" width="59" height="21" rx="2.5" fill="url(#btn)" stroke="#8c8c8c" stroke-width="1"/>
<path transform="translate(1608,292) scale(1.0)" d="M9,-1.5l-7,1.2 M0.5,1.5h11 M2,4h8 M6,-0.3v9.5 M3.5,1.5v4.5h5v-4.5 M2.5,7.2h7 M0.5,10h11" fill="none" stroke="#5a5a5a" stroke-width="1.00" stroke-linecap="square" stroke-linejoin="miter" shape-rendering="crispEdges"/><path transform="translate(1620,292) scale(1.0)" d="M0.5,-0.5h11 M6,-2v1.5 M3,1h6.5v6.5h-6.5z M3,3.2h6.5 M3,5.3h6.5 M1.3,1v9.3h10.2" fill="none" stroke="#5a5a5a" stroke-width="1.00" stroke-linecap="square" stroke-linejoin="miter" shape-rendering="crispEdges"/><path transform="translate(1632,292) scale(1.0)" d="M1.5,-1.5v10.5l3.5,-1.5 M1.5,3.5h3.5 M7,-1.5v9.8q0,1.5 1.5,1.5h3 M7,4.5l4,-2.5" fill="none" stroke="#5a5a5a" stroke-width="1.00" stroke-linecap="square" stroke-linejoin="miter" shape-rendering="crispEdges"/><path transform="translate(1644,292) scale(1.0)" d="M2.5,-2l-2.3,4.5 M1.6,1v9.5 M3.5,-0.5h4.5 M5.5,-0.5l-1.5,5 M4,2.5h3v2.5l-3,5 M5.3,5.5l1.2,1.5 M9,0v7 M11,-2v11.5l-1.3,-0.8" fill="none" stroke="#5a5a5a" stroke-width="1.00" stroke-linecap="square" stroke-linejoin="miter" shape-rendering="crispEdges"/>
<defs><pattern id="hat" width="2" height="2" patternUnits="userSpaceOnUse"><rect width="2" height="2" fill="#f7f7f7"/><rect width="1" height="1" fill="#e9e9e9"/><rect x="1" y="1" width="1" height="1" fill="#e9e9e9"/></pattern><linearGradient id="gold" x1="0" y1="0" x2="1" y2="1"><stop offset="0" stop-color="#ffe070"/><stop offset="0.6" stop-color="#e8b020"/><stop offset="1" stop-color="#b87810"/></linearGradient><linearGradient id="cloud" x1="0" y1="0" x2="0" y2="1"><stop offset="0" stop-color="#ffffff"/><stop offset="1" stop-color="#b8c8e0"/></linearGradient><linearGradient id="bgrad" x1="0" y1="0" x2="0" y2="1"><stop offset="0" stop-color="#60c0ff"/><stop offset="1" stop-color="#1080e0"/></linearGradient><linearGradient id="ggrad" x1="0" y1="0" x2="0" y2="1"><stop offset="0" stop-color="#70f070"/><stop offset="1" stop-color="#10b010"/></linearGradient><radialGradient id="clk" cx="0.4" cy="0.35" r="0.7"><stop offset="0" stop-color="#8ad0ff"/><stop offset="1" stop-color="#0a50b0"/></radialGradient><radialGradient id="badge" cx="0.4" cy="0.3" r="0.8"><stop offset="0" stop-color="#f06040"/><stop offset="1" stop-color="#d02008"/></radialGradient></defs>
<rect x="0" y="8" width="2" height="3" fill="#10c010"/><rect x="0" y="11" width="2" height="0.8" fill="#087008"/>
<path transform="translate(6,0) scale(1.0)" d="M3,-1.5v1 M0.5,-0.3h5 M1.6,0.6l0.5,1.2 M4.4,0.6l-0.5,1.2 M0,2.3h6 M0.5,4.3h5 M3,2.3v7.7 M3,5l-2.5,3 M3,5l2.5,2.5 M11,-1.3l-3.5,1.3v8l-1,1.5 M7.5,3.2h4.5 M10,3.2v6.8" fill="none" stroke="#000" stroke-width="1.00" stroke-linecap="square" stroke-linejoin="miter" shape-rendering="crispEdges"/><path transform="translate(18,0) scale(1.0)" d="M1,-1.2l1,1 M0.3,2.5h1.8v6l1.6,-1.5 M4,-0.5h7.8 M8.3,-0.5v9.8l-1.8,-1" fill="none" stroke="#000" stroke-width="1.00" stroke-linecap="square" stroke-linejoin="miter" shape-rendering="crispEdges"/><path transform="translate(30,0) scale(1.0)" d="M3.5,-2l1,1.2 M8.5,-2l-1,1.2 M1.5,0.4h9v4.8h-9z M1.5,2.8h9 M6,0.4v9.6 M0,7.5h12" fill="none" stroke="#000" stroke-width="1.00" stroke-linecap="square" stroke-linejoin="miter" shape-rendering="crispEdges"/>
<polygon points="54.2,7.6 59.5,-1 70,6.3 63.8,13.6" fill="url(#gold)" stroke="#9a6010" stroke-width="0.9"/>
<polyline points="56,9.5 62.5,12.5 69.5,7.5" fill="none" stroke="#f8e8a0" stroke-width="0.8"/>
<rect x="84.2" y="-2" width="10.8" height="10" fill="url(#bgrad)"/>
<rect x="86.5" y="-2" width="1.2" height="9" fill="#ffffff" opacity="0.8"/><rect x="89" y="2.5" width="5" height="1.2" fill="#e0f0ff"/>
<path d="M83.5,13.3 q-1.8,-0.3 -1.2,-2.5 q0.6,-2 2.8,-1.5 q0.5,-3.2 4.2,-3.2 q3,0 3.8,2.5 q3.2,-0.8 4.2,1.8 q0.8,2.9 -1.8,2.9 z" fill="url(#cloud)" stroke="#4a68a8" stroke-width="0.9"/>
<g fill="none" stroke-width="1"><circle cx="118" cy="5.8" r="7.6" stroke="#6a9ae0" stroke-dasharray="2.5 1.5" opacity="0.8"/><circle cx="118" cy="5.8" r="5" stroke="#4a7ad8" stroke-dasharray="2 1.2" opacity="0.8"/><path d="M121,12 A7.6,7.6 0 0 0 124.5,2" stroke="#5aa05a" stroke-width="1.4"/></g><circle cx="118" cy="5.8" r="1.6" fill="#1850c8"/><rect x="118" y="6" width="1.3" height="7.8" fill="#18a018"/>
<ellipse cx="145" cy="3" rx="7.8" ry="2.8" fill="#58b8e8" stroke="#2a88c0" stroke-width="0.8"/><ellipse cx="145" cy="0" rx="4" ry="3" fill="#70c8f0"/><polygon points="138,5.5 151,5.5 145,14" fill="#f8e070" stroke="#c8a020" stroke-width="0.8"/><circle cx="149.5" cy="9.6" r="4.1" fill="#e02a10" stroke="#b01800" stroke-width="0.6"/><rect x="148" y="8.1" width="3" height="3" fill="#fff"/>
<path transform="translate(158.5,0) scale(1.0)" d="M6,-2.5l-1,1.8 M1,-0.7h9.5v10h-9.5z M1,2.2h9.5 M1,5h9.5 M1,7.6h9.5" fill="none" stroke="#000" stroke-width="1.00" stroke-linecap="square" stroke-linejoin="miter" shape-rendering="crispEdges"/><path transform="translate(170.5,0) scale(1.0)" d="M0.5,-0.5h4.5 M0,2.3h5.5 M2.3,2.3l-1.8,5.5l4.3,-0.8 M3.8,5.3l1.3,2.2 M6,1.5h5.5v7.5l-1.2,1 M8.5,-1.5v4.5l-2.8,7" fill="none" stroke="#000" stroke-width="1.00" stroke-linecap="square" stroke-linejoin="miter" shape-rendering="crispEdges"/><path transform="translate(182.5,0) scale(1.0)" d="M6,-2.5v1.2 M0.3,-0.8h11.4 M4,0.8l-3,2.5 M8,0.8l3,2.5 M3.5,3.5l6.5,6.5 M8.5,3.5l-7.5,6.5" fill="none" stroke="#000" stroke-width="1.00" stroke-linecap="square" stroke-linejoin="miter" shape-rendering="crispEdges"/><path transform="translate(194.5,0) scale(1.0)" d="M2,-1.5h7.5v4.5h-7.5z M2,0.7h7.5 M3.5,4.3l-2.5,3 M2.8,5h8.2v3.5l-1.2,1.2 M5.2,5.2l-2.5,4.8 M7.8,5.2l-2.3,4.8" fill="none" stroke="#000" stroke-width="1.00" stroke-linecap="square" stroke-linejoin="miter" shape-rendering="crispEdges"/>
<rect x="213" y="0" width="1" height="16" fill="#a0a0a0"/><rect x="214" y="0" width="1" height="16" fill="#ffffff" opacity="0.7"/>
<rect x="217" y="1" width="3" height="1" fill="#a8a8a8"/><rect x="217" y="3" width="3" height="1" fill="#a8a8a8"/><rect x="217" y="5" width="3" height="1" fill="#a8a8a8"/><rect x="217" y="7" width="3" height="1" fill="#a8a8a8"/><rect x="217" y="9" width="3" height="1" fill="#a8a8a8"/><rect x="217" y="11" width="3" height="1" fill="#a8a8a8"/><rect x="217" y="13" width="3" height="1" fill="#a8a8a8"/><rect x="217" y="15" width="3" height="1" fill="#a8a8a8"/>
<g stroke="#555" stroke-width="1.3" fill="none"><line x1="231.5" y1="-1" x2="231.5" y2="14"/><line x1="230.0" y1="1.3" x2="233.0" y2="1.3"/><line x1="229" y1="11.5" x2="242.8" y2="11.5"/><polyline points="240.3,9.5 242.8,11.5 240.3,13.5"/></g>
<g stroke="#0a8a0a" stroke-width="1.3" fill="none"><line x1="237.5" y1="0.8" x2="237.5" y2="9.8"/><line x1="235" y1="8.4" x2="237.5" y2="8.4"/><line x1="237.5" y1="2.4" x2="240" y2="2.4"/></g>
<rect x="251" y="0" width="1" height="16" fill="#a0a0a0"/><rect x="252" y="0" width="1" height="16" fill="#ffffff" opacity="0.7"/>
<rect x="252.5" y="0" width="23.5" height="16" fill="url(#hat)"/><rect x="251.5" y="16" width="25.5" height="1" fill="#ffffff"/>
<g stroke="#555" stroke-width="1.3" fill="none"><line x1="259.4" y1="-1" x2="259.4" y2="14"/><line x1="257.9" y1="1.3" x2="260.9" y2="1.3"/><line x1="257" y1="11.5" x2="270.5" y2="11.5"/><polyline points="268.0,9.5 270.5,11.5 268.0,13.5"/></g>
<rect x="265" y="7" width="1.2" height="2.8" fill="#0a8a0a"/><rect x="263.3" y="-1" width="4.6" height="8.6" fill="url(#ggrad)" stroke="#0a8a0a" stroke-width="0.9"/>
<g stroke="#555" stroke-width="1.3" fill="none"><line x1="287.5" y1="-1" x2="287.5" y2="14"/><line x1="286.0" y1="1.3" x2="289.0" y2="1.3"/><line x1="285" y1="11.5" x2="299" y2="11.5"/><polyline points="296.5,9.5 299,11.5 296.5,13.5"/></g>
<path d="M286.3,8.7 Q289,5 292,3.4 Q294.5,4.5 297.6,7.2" fill="none" stroke="#2a9a2a" stroke-width="1.2"/>
<rect x="308.5" y="0" width="1" height="16" fill="#a0a0a0"/><rect x="309.5" y="0" width="1" height="16" fill="#ffffff" opacity="0.7"/>
<line x1="326.5" y1="7.9" x2="331.7" y2="12.6" stroke="#a87808" stroke-width="3.2"/><line x1="326.5" y1="7.9" x2="331.7" y2="12.6" stroke="#f0d040" stroke-width="1.8"/><circle cx="323" cy="3.8" r="5.3" fill="#dff2ff" stroke="#3a78c8" stroke-width="1"/>
<rect x="320" y="3.1" width="6" height="1.5" fill="#4a86b0"/>
<rect x="322.25" y="0.8" width="1.5" height="6" fill="#4a86b0"/>
<line x1="354.6" y1="7.9" x2="359.8" y2="12.6" stroke="#a87808" stroke-width="3.2"/><line x1="354.6" y1="7.9" x2="359.8" y2="12.6" stroke="#f0d040" stroke-width="1.8"/><circle cx="351.1" cy="3.8" r="5.3" fill="#dff2ff" stroke="#3a78c8" stroke-width="1"/>
<rect x="348.1" y="3.1" width="6" height="1.5" fill="#4a86b0"/>
<rect x="373" y="-1" width="7.8" height="7.2" rx="0.8" fill="#2aa02a"/><rect x="374.3" y="1.2000000000000002" width="5.2" height="3" fill="#ffffff"/><rect x="375" y="1.7999999999999998" width="3.8" height="0.9" fill="#60d060"/>
<rect x="381.2" y="-1" width="7.8" height="7.2" rx="0.8" fill="#1a50d0"/><rect x="382.5" y="1.2000000000000002" width="5.2" height="3" fill="#ffffff"/><rect x="383.2" y="1.7999999999999998" width="3.8" height="0.9" fill="#5a8af0"/>
<rect x="373" y="6.3" width="7.8" height="7.2" rx="0.8" fill="#1a50d0"/><rect x="374.3" y="8.5" width="5.2" height="3" fill="#ffffff"/><rect x="375" y="9.1" width="3.8" height="0.9" fill="#5a8af0"/>
<rect x="381.2" y="6.3" width="7.8" height="7.2" rx="0.8" fill="#2aa02a"/><rect x="382.5" y="8.5" width="5.2" height="3" fill="#ffffff"/><rect x="383.2" y="9.1" width="3.8" height="0.9" fill="#60d060"/>
<rect x="398" y="0" width="1" height="16" fill="#a0a0a0"/><rect x="399" y="0" width="1" height="16" fill="#ffffff" opacity="0.7"/>
<rect x="403" y="0" width="1" height="16" fill="#a0a0a0"/><rect x="404" y="0" width="1" height="16" fill="#ffffff" opacity="0.7"/>
<rect x="404.5" y="0" width="23.5" height="16" fill="url(#hat)"/><rect x="403.5" y="16" width="25.5" height="1" fill="#ffffff"/>
<g stroke="#555" stroke-width="1.3" fill="none"><line x1="411.4" y1="-1" x2="411.4" y2="14"/><line x1="409.9" y1="1.3" x2="412.9" y2="1.3"/><line x1="409.2" y1="11.5" x2="422.7" y2="11.5"/><polyline points="420.2,9.5 422.7,11.5 420.2,13.5"/></g>
<polygon points="416.2,2.2 416.2,8.7 420.2,5.4" fill="#40d040" stroke="#108a10" stroke-width="0.8"/>
<rect x="431.4" y="0" width="1" height="16" fill="#a0a0a0"/><rect x="432.4" y="0" width="1" height="16" fill="#ffffff" opacity="0.7"/>
<rect x="432.8" y="0" width="23.19999999999999" height="16" fill="url(#hat)"/><rect x="431.8" y="16" width="25.19999999999999" height="1" fill="#ffffff"/>
<g stroke="#555" stroke-width="1.3" fill="none"><line x1="439.5" y1="-1" x2="439.5" y2="14"/><line x1="438.0" y1="1.3" x2="441.0" y2="1.3"/><line x1="437" y1="11.5" x2="451" y2="11.5"/><polyline points="448.5,9.5 451,11.5 448.5,13.5"/></g>
<rect x="445" y="-1" width="1.2" height="10.7" fill="#1a6aa8"/><line x1="447" y1="5.4" x2="451" y2="5.4" stroke="#e05010" stroke-width="1.3"/><polygon points="446.2,5.4 449,3.2 449,7.6" fill="#e05010"/>
<rect x="460.6" y="0" width="1" height="16" fill="#a0a0a0"/><rect x="461.6" y="0" width="1" height="16" fill="#ffffff" opacity="0.7"/>
<path d="M470.5,-1 h9 l2,2 v10.2 h-11 z" fill="#ffffff" stroke="#8a8a8a" stroke-width="0.9"/><path d="M474.5,1.5 q-1,0 -1,1.5 v4" fill="none" stroke="#6a5a3a" stroke-width="0.9"/><path d="M478.2,4.3 h3.6 v4 h4 v3.6 h-4 v4 h-3.6 v-4 h-4 v-3.6 h4 z" fill="#30d030" stroke="#0a900a" stroke-width="0.9"/>
<polygon points="491.5,5 497.5,5 494.5,8.3" fill="#000"/>
<circle cx="516.1" cy="5.9" r="7.6" fill="url(#clk)"/><circle cx="516.1" cy="5.9" r="5.2" fill="#fafafa"/><path d="M515.5,1.5 L516.3,6.2 L519.3,6.2" fill="none" stroke="#111" stroke-width="1.1"/><circle cx="516.1" cy="5.9" r="5.2" fill="none" stroke="#aaa" stroke-width="0.5" stroke-dasharray="0.6 1.6"/>
<polygon points="530.5,5 536.5,5 533.5,8.3" fill="#000"/>
<rect x="547.5" y="-1" width="15" height="13.6" rx="0.8" fill="#ffffff" stroke="#3a70c0" stroke-width="1"/><rect x="548" y="-1" width="14" height="2.3" fill="#5a90d8"/><rect x="548" y="6.3" width="14" height="1" fill="#3a70c0"/><polyline points="549,4.8 551,4 552.5,3.5 554,4.3 556,3.7 557.5,3.2 559,3.8 561,3" fill="none" stroke="#b02010" stroke-width="1"/><polyline points="549,10.4 551,9.6 552.5,9.9 554,9.2 555.5,10 557,8.3 558.5,8.5 560.5,10.3" fill="none" stroke="#109010" stroke-width="1"/>
<polygon points="569.5,5 575.5,5 572.5,8.3" fill="#000"/>
<rect x="581" y="0" width="1" height="16" fill="#808080"/>
<rect x="585" y="1" width="3" height="1" fill="#a8a8a8"/><rect x="585" y="3" width="3" height="1" fill="#a8a8a8"/><rect x="585" y="5" width="3" height="1" fill="#a8a8a8"/><rect x="585" y="7" width="3" height="1" fill="#a8a8a8"/><rect x="585" y="9" width="3" height="1" fill="#a8a8a8"/><rect x="585" y="11" width="3" height="1" fill="#a8a8a8"/><rect x="585" y="13" width="3" height="1" fill="#a8a8a8"/><rect x="585" y="15" width="3" height="1" fill="#a8a8a8"/>
<rect x="591" y="0" width="1" height="16" fill="#a0a0a0"/><rect x="592" y="0" width="1" height="16" fill="#ffffff" opacity="0.7"/>
<rect x="592.5" y="0" width="23.5" height="16" fill="url(#hat)"/><rect x="591.5" y="16" width="25.5" height="1" fill="#ffffff"/>
<polygon points="599.3,-1 599.3,10.2 601.6,8.3 603.7,13 605.7,12.1 603.7,7.4 607,7.2" fill="#4a4a4a"/>
<g fill="#404040"><rect x="624" y="5.8" width="6.5" height="1.3"/><rect x="632.5" y="5.8" width="6.5" height="1.3"/><rect x="630.9" y="-1" width="1.3" height="6.5"/><rect x="630.9" y="7.8" width="1.3" height="6"/></g>
<rect x="648.5" y="0" width="1" height="16" fill="#a0a0a0"/><rect x="649.5" y="0" width="1" height="16" fill="#ffffff" opacity="0.7"/>
<rect x="664.8" y="-1" width="1.3" height="14" fill="#404040"/>
<rect x="688" y="5.8" width="12" height="1.3" fill="#404040"/>
<line x1="716" y1="12.9" x2="727.8" y2="1" stroke="#404040" stroke-width="1.2"/>
<g stroke="#404040" stroke-width="1.1" fill="none"><line x1="742.3" y1="7.5" x2="751" y2="-1"/><line x1="747" y1="12.5" x2="756" y2="4"/><path d="M744,9 l2,-1.5 M745.2,11.3 l1,-4.5 M747.5,9 l1,-4.5 M750,6.5 l1,-4.5 M752.5,4 l1,-4.5"/></g>
<text x="752.8" y="14.9" font-family='"Liberation Sans", sans-serif' font-size="6.5" font-weight="bold" fill="#404040">E</text>
<g stroke="#404040" stroke-width="1.1" stroke-dasharray="1 0.9" fill="none"><line x1="771" y1="2.5" x2="784.5" y2="2.5"/><line x1="771" y1="6.4" x2="784.5" y2="6.4"/><line x1="771" y1="10.4" x2="780" y2="10.4"/></g>
<text x="780.8" y="14.9" font-family='"Liberation Sans", sans-serif' font-size="6.5" font-weight="bold" fill="#404040">F</text>
<text x="801.5" y="11" font-family='"Liberation Sans", sans-serif' font-size="12.5" fill="#505050">A</text>
<rect x="828.5" y="-0.5" width="11" height="12.6" fill="none" stroke="#333" stroke-width="0.9" stroke-dasharray="0.9 1.1"/>
<rect x="830" y="3" width="8" height="1.3" fill="#505050"/><rect x="833.3" y="3" width="1.4" height="8" fill="#505050"/>
<polygon points="858.3,-1 861.8,3.5 854.8,3.5" fill="#505050"/><polygon points="855.5,3.3 861,3.3 858.3,4.8" fill="#505050"/><polyline points="857.3,7.5 859.3,9.5 863.8,4.3" fill="none" stroke="#505050" stroke-width="1.2"/><polygon points="862,9.3 869,9.3 865.5,13" fill="#505050"/><polygon points="863.5,9.3 867.5,9.3 865.5,7.9" fill="#505050"/>
<polygon points="875.7,5 881.7,5 878.7,8.3" fill="#000"/>
<rect x="887.3" y="0" width="1" height="17" fill="#808080"/><rect x="888.3" y="0" width="1" height="17" fill="#ffffff"/>
<rect x="891" y="1" width="3" height="1" fill="#a8a8a8"/><rect x="891" y="3" width="3" height="1" fill="#a8a8a8"/><rect x="891" y="5" width="3" height="1" fill="#a8a8a8"/><rect x="891" y="7" width="3" height="1" fill="#a8a8a8"/><rect x="891" y="9" width="3" height="1" fill="#a8a8a8"/><rect x="891" y="11" width="3" height="1" fill="#a8a8a8"/><rect x="891" y="13" width="3" height="1" fill="#a8a8a8"/><rect x="891" y="15" width="3" height="1" fill="#a8a8a8"/>
<rect x="1037.3" y="0" width="1" height="16" fill="#a0a0a0"/><rect x="1038.3" y="0" width="1" height="16" fill="#ffffff" opacity="0.7"/>
<rect x="1038.5" y="0" width="23.5" height="16" fill="url(#hat)"/><rect x="1037.5" y="16" width="25.5" height="1" fill="#ffffff"/>
<g font-family='"Liberation Sans", sans-serif' font-size="10.2" fill="#3a3a3a">
<text transform="translate(902.3,10) scale(0.9,1)">M1</text>
<text transform="translate(930.7,10) scale(0.9,1)">M5</text>
<text transform="translate(956.5,10) scale(0.9,1)">M15</text>
<text transform="translate(984.3,10) scale(0.9,1)">M30</text>
<text transform="translate(1015.4,10) scale(0.9,1)">H1</text>
<text transform="translate(1042.4,10) scale(0.9,1)">H4</text>
<text transform="translate(1071.3,10) scale(0.9,1)">D1</text>
<text transform="translate(1099.2,10) scale(0.9,1)">W1</text>
<text transform="translate(1125.1,10) scale(0.9,1)">MN</text>
</g>
<rect x="1148.3" y="0" width="1" height="17" fill="#909090"/>
<line x1="1611" y1="11" x2="1615" y2="7" stroke="#2a60d0" stroke-width="2.4" stroke-linecap="round"/><circle cx="1618.5" cy="3.4" r="3.6" fill="#f4f4ff" stroke="#2a60d0" stroke-width="1.4"/>
<path d="M1639,13.5 l0.8,-2.2 q-4.5,-0.8 -4.5,-4 q0,-4.5 6.5,-4.5 q6.5,0 6.5,4.5 q0,4 -6,4 z" fill="#e4e4ec" stroke="#9a9a9a" stroke-width="0.8"/>
<circle cx="1649.4" cy="4.3" r="8" fill="url(#badge)"/>
<text x="1645.6" y="7.8" font-family="'Liberation Serif', serif" font-size="12" fill="#fff" stroke="#fff" stroke-width="0.4">1</text>
</svg>
</body></html>
